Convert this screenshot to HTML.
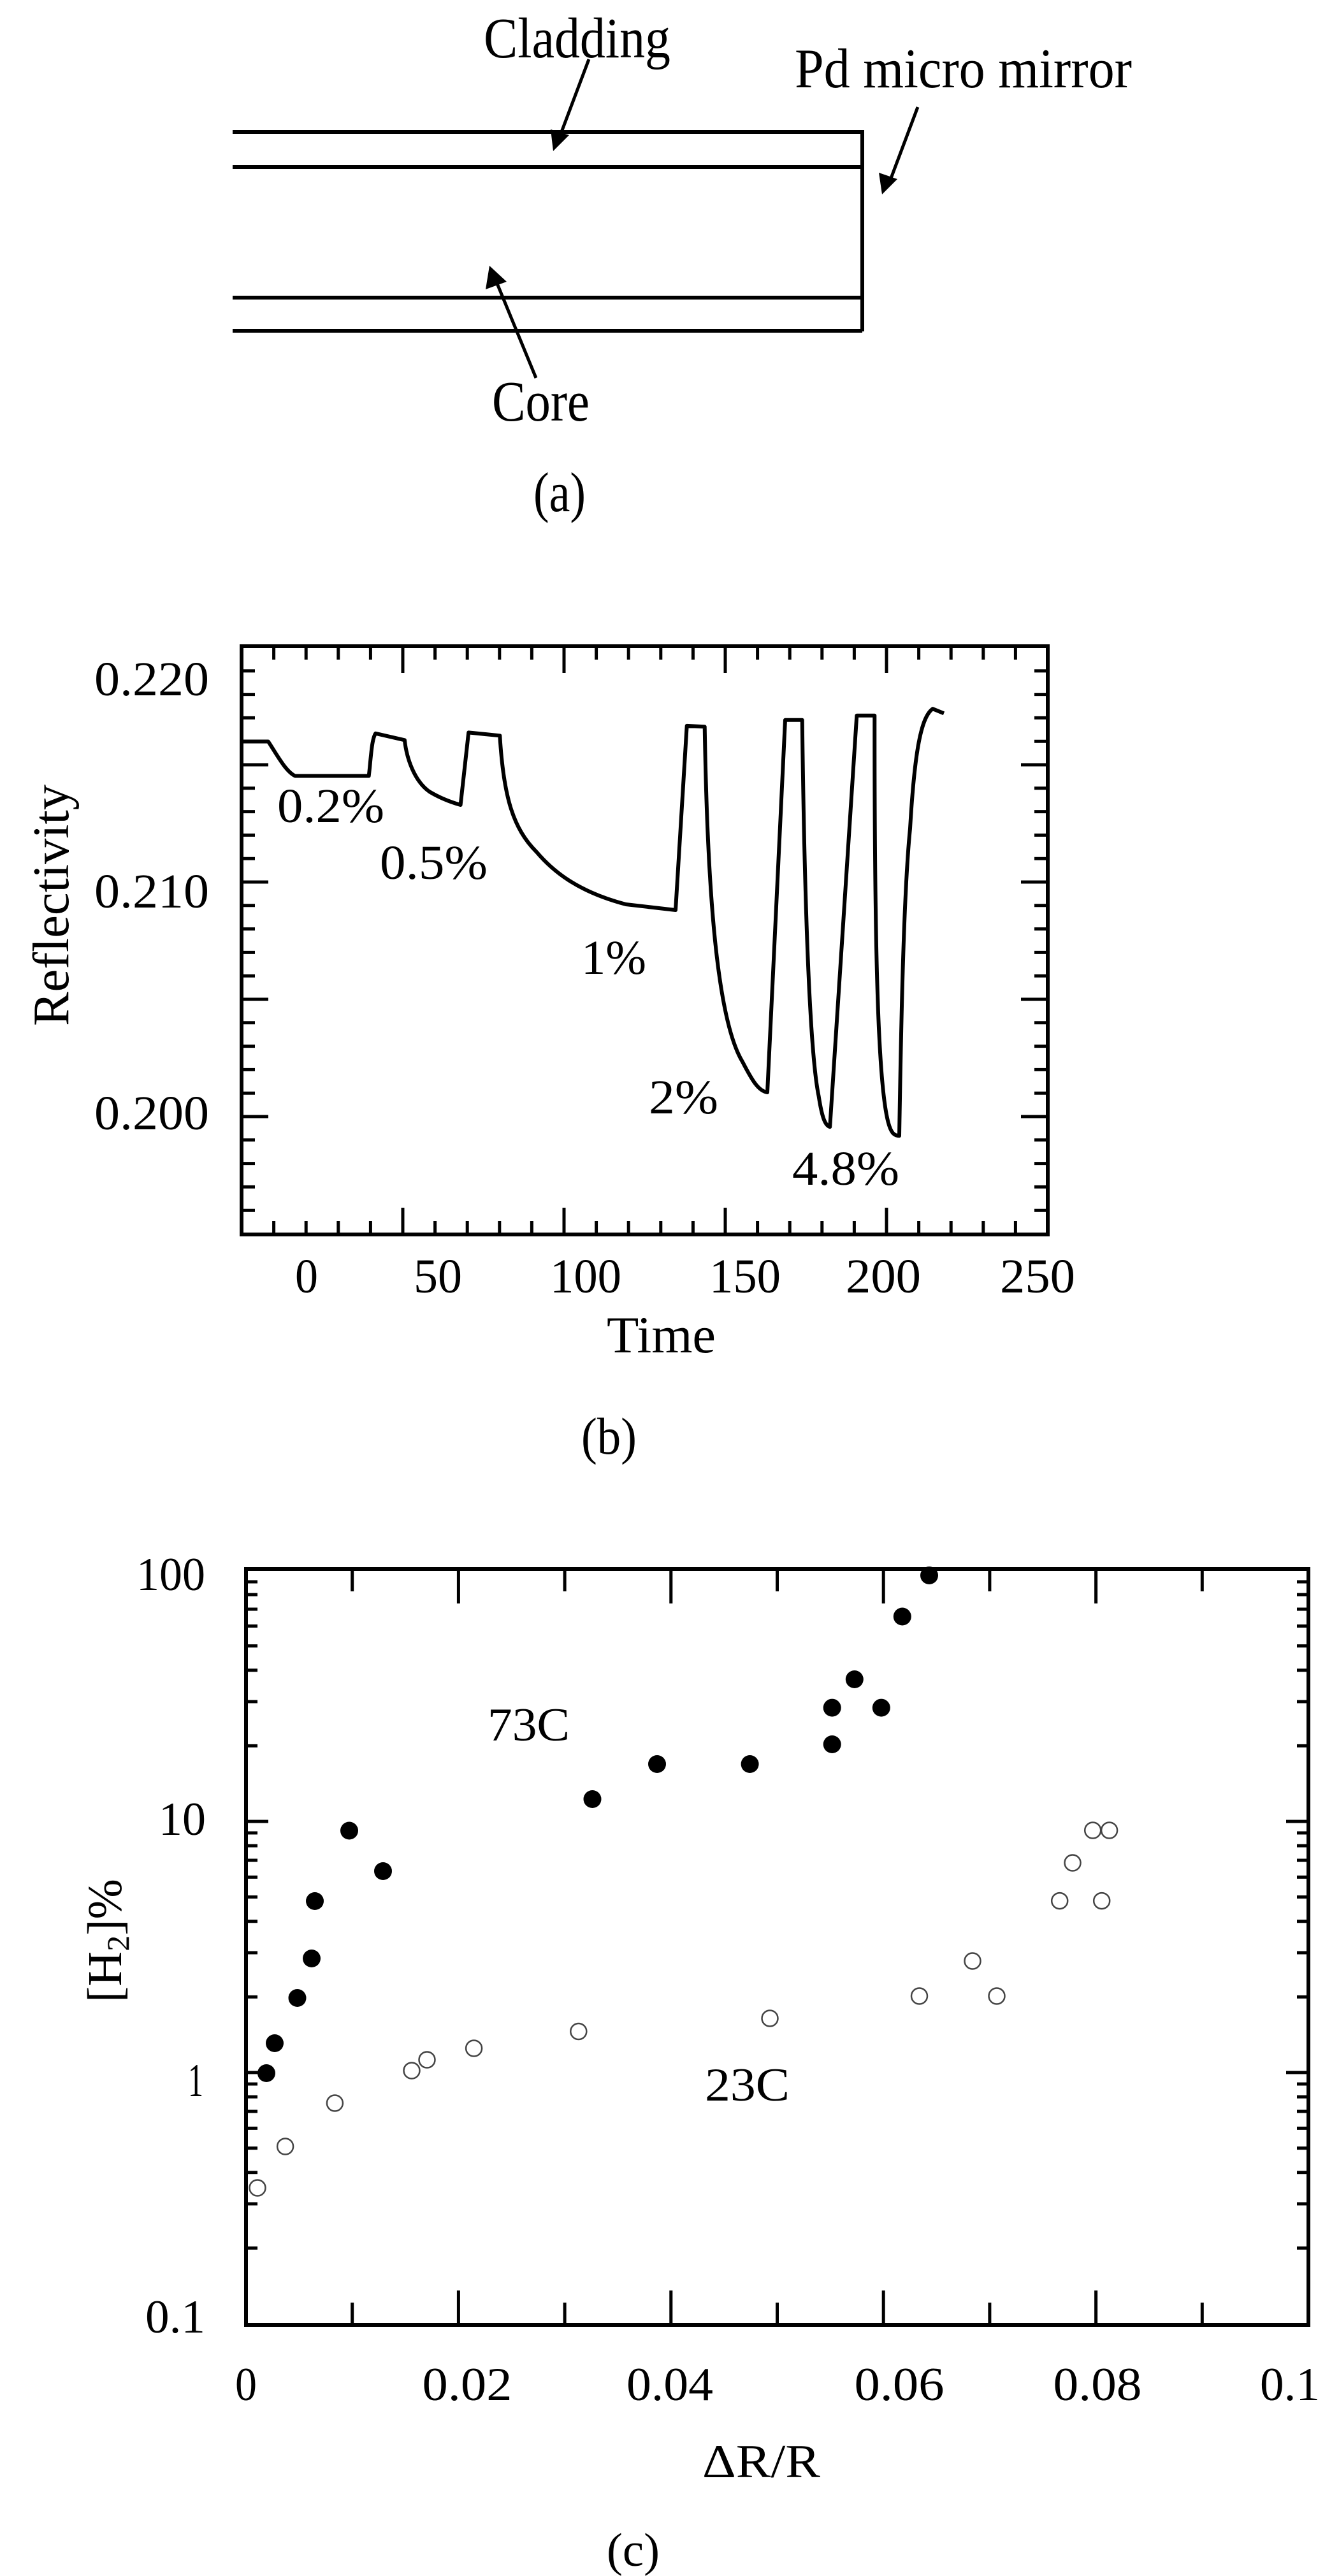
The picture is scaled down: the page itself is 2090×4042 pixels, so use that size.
<!DOCTYPE html>
<html><head><meta charset="utf-8"><style>html,body{margin:0;padding:0;background:#fff}svg{display:block}</style></head>
<body>
<svg width="2090" height="4042" viewBox="0 0 2090 4042" xmlns="http://www.w3.org/2000/svg" font-family="'Liberation Serif', serif" fill="#000">
<!-- (a) -->
<g stroke="#000" stroke-width="6" fill="none">
<path d="M365,207 H1353 V520"/>
<path d="M365,262 H1353"/>
<path d="M365,467 H1353"/>
<path d="M365,519 H1353"/>
<line x1="924" y1="93" x2="878" y2="215" stroke-width="5"/>
<line x1="1440" y1="168" x2="1396" y2="285" stroke-width="5"/>
<line x1="841" y1="593" x2="778" y2="440" stroke-width="5"/>
</g>
<polygon points="868,237 864,203 893,212"/>
<polygon points="1384,305 1379,271 1408,281"/>
<polygon points="768,417 762,454 795,442"/>
<text x="759" y="90" font-size="90" textLength="293" lengthAdjust="spacingAndGlyphs">Cladding</text>
<text x="1247" y="137" font-size="88" textLength="529" lengthAdjust="spacingAndGlyphs">Pd micro mirror</text>
<text x="772" y="660" font-size="90" textLength="153" lengthAdjust="spacingAndGlyphs">Core</text>
<text x="837" y="802" font-size="88" textLength="82" lengthAdjust="spacingAndGlyphs">(a)</text>

<!-- (b) -->
<rect x="379" y="1014" width="1265" height="923" fill="none" stroke="#000" stroke-width="6"/>
<path id="bticks" stroke="#000" stroke-width="5" fill="none" d=""/>
<path stroke="#000" stroke-width="6" fill="none" stroke-linejoin="round" d="M378.8,1163.5 L420.9,1163.5 C435,1185 448,1210 463,1217.5 L578.7,1217.5 C582,1190 583,1160 589.3,1150.8 L634.9,1161.3 C638,1190 650,1225 673.5,1242 C690,1252 705,1258 722.6,1263 L735.2,1149.4 L784.3,1154.3 C790,1250 805,1300 841.8,1336.7 C870,1370 910,1400 982,1419 L1060,1428 L1077.7,1138.9 L1105.7,1140.3 C1110,1400 1125,1600 1165,1666 C1180,1695 1190,1712 1204,1714 L1232,1129.8 L1258.7,1129.8 C1262,1400 1270,1650 1284.6,1720 C1290,1755 1295,1766 1302.2,1768.2 L1344.3,1122.8 L1372.3,1122.8 C1372,1500 1378,1700 1393.4,1760 C1398,1778 1403,1782 1411,1782.2 C1414,1600 1418,1400 1428,1300 C1435,1180 1445,1125 1463.5,1112.2 L1481,1119.3"/>
<g font-size="76">
<text x="148" y="1091" textLength="180" lengthAdjust="spacingAndGlyphs">0.220</text>
<text x="148" y="1424" textLength="180" lengthAdjust="spacingAndGlyphs">0.210</text>
<text x="148" y="1772" textLength="180" lengthAdjust="spacingAndGlyphs">0.200</text>
<g text-anchor="middle">
<text x="481" y="2028" textLength="36" lengthAdjust="spacingAndGlyphs">0</text>
<text x="687" y="2028" textLength="76" lengthAdjust="spacingAndGlyphs">50</text>
<text x="919" y="2028" textLength="112" lengthAdjust="spacingAndGlyphs">100</text>
<text x="1169" y="2028" textLength="112" lengthAdjust="spacingAndGlyphs">150</text>
<text x="1386" y="2028" textLength="118" lengthAdjust="spacingAndGlyphs">200</text>
<text x="1628" y="2028" textLength="118" lengthAdjust="spacingAndGlyphs">250</text>
</g>
<text x="435" y="1290" textLength="168" lengthAdjust="spacingAndGlyphs">0.2%</text>
<text x="596" y="1379" textLength="169" lengthAdjust="spacingAndGlyphs">0.5%</text>
<text x="912" y="1528" textLength="102" lengthAdjust="spacingAndGlyphs">1%</text>
<text x="1018" y="1747" textLength="109" lengthAdjust="spacingAndGlyphs">2%</text>
<text x="1243" y="1859" textLength="168" lengthAdjust="spacingAndGlyphs">4.8%</text>
<text x="952" y="2122" font-size="82" textLength="171" lengthAdjust="spacingAndGlyphs">Time</text>
<text x="912" y="2281" font-size="82" textLength="87" lengthAdjust="spacingAndGlyphs">(b)</text>
<text transform="translate(107,1610) rotate(-90)" x="0" y="0" font-size="80" textLength="379" lengthAdjust="spacingAndGlyphs">Reflectivity</text>
</g>

<!-- (c) -->
<rect x="386" y="2462" width="1667" height="1186" fill="none" stroke="#000" stroke-width="6"/>
<path id="cticks" stroke="#000" stroke-width="5" fill="none" d=""/>
<g font-size="74">
<text x="214" y="2495" textLength="108" lengthAdjust="spacingAndGlyphs">100</text>
<text x="249" y="2879" textLength="74" lengthAdjust="spacingAndGlyphs">10</text>
<text x="295" y="3289" textLength="24" lengthAdjust="spacingAndGlyphs">1</text>
<text x="228" y="3660" textLength="94" lengthAdjust="spacingAndGlyphs">0.1</text>
<g text-anchor="middle">
<text x="386" y="3766" textLength="34" lengthAdjust="spacingAndGlyphs">0</text>
<text x="733" y="3766" textLength="141" lengthAdjust="spacingAndGlyphs">0.02</text>
<text x="1051" y="3766" textLength="136" lengthAdjust="spacingAndGlyphs">0.04</text>
<text x="1411" y="3766" textLength="141" lengthAdjust="spacingAndGlyphs">0.06</text>
<text x="1722" y="3766" textLength="139" lengthAdjust="spacingAndGlyphs">0.08</text>
<text x="2024" y="3766" textLength="94" lengthAdjust="spacingAndGlyphs">0.1</text>
</g>
<text x="765" y="2731" textLength="129" lengthAdjust="spacingAndGlyphs">73C</text>
<text x="1106" y="3296" textLength="133" lengthAdjust="spacingAndGlyphs">23C</text>
<text x="1102" y="3887" textLength="185" lengthAdjust="spacingAndGlyphs">ΔR/R</text>
<text x="952" y="4026" textLength="83" lengthAdjust="spacingAndGlyphs">(c)</text>
<text transform="translate(190,3142) rotate(-90)" font-size="76"><tspan>[H</tspan><tspan font-size="50" dy="12">2</tspan><tspan dy="-12">]%</tspan></text>
</g>
<g id="filled">
<circle cx="418" cy="3253" r="14"/><circle cx="431" cy="3206" r="14"/><circle cx="466.5" cy="3135" r="14"/>
<circle cx="489" cy="3073" r="14"/><circle cx="494" cy="2983" r="14"/><circle cx="548" cy="2872.5" r="14"/>
<circle cx="601" cy="2936" r="14"/><circle cx="929.5" cy="2823" r="14"/><circle cx="1031" cy="2768" r="14"/>
<circle cx="1176.6" cy="2768" r="14"/><circle cx="1305.7" cy="2737" r="14"/><circle cx="1305.7" cy="2679.6" r="14"/>
<circle cx="1340.8" cy="2635" r="14"/><circle cx="1382.8" cy="2679.6" r="14"/><circle cx="1415.8" cy="2536.5" r="14"/>
<circle cx="1458" cy="2472" r="14"/>
</g>
<g fill="none" stroke="#444" stroke-width="2.5">
<circle cx="404" cy="3433" r="12.5"/><circle cx="447.6" cy="3368" r="12.5"/><circle cx="525.4" cy="3300" r="12.5"/>
<circle cx="646" cy="3249" r="12.5"/><circle cx="670" cy="3232" r="12.5"/><circle cx="743.6" cy="3214" r="12.5"/>
<circle cx="907.8" cy="3187.5" r="12.5"/><circle cx="1208" cy="3167" r="12.5"/><circle cx="1442.5" cy="3132" r="12.5"/>
<circle cx="1526" cy="3077" r="12.5"/><circle cx="1564" cy="3132" r="12.5"/><circle cx="1662.7" cy="2982.6" r="12.5"/>
<circle cx="1683" cy="2923" r="12.5"/><circle cx="1714.7" cy="2872" r="12.5"/><circle cx="1740.6" cy="2872" r="12.5"/>
<circle cx="1728.7" cy="2982.6" r="12.5"/>
</g>
</svg>
<script>
(function(){
var d="";
for(var k=1;k<25;k++){var x=379+k*50.6;var L=(k%5==0)?42:21;d+="M"+x+",1937v-"+L+"M"+x+",1014v"+L;}
for(var k=-4;k<=19;k++){var y=1752-36.8*k;var L=(k%5==0)?42:21;d+="M379,"+y+"h"+L+"M1644,"+y+"h-"+L;}
document.getElementById("bticks").setAttribute("d",d);
var c="";
for(var k=1;k<10;k++){var x=386+k*166.7;var L=(k%2==0)?54:35;c+="M"+x+",3648v-"+L+"M"+x+",2462v"+L;}
var dec=394;
for(var e=0;e<3;e++){var base=3646-e*dec;for(var m=1;m<=9;m++){var y=base-Math.log10(m)*dec;if(e==0&&m==1)continue;var L=(m==1)?35:18;c+="M386,"+y+"h"+L+"M2053,"+y+"h-"+L;}}
document.getElementById("cticks").setAttribute("d",c);
})();
</script>
</body></html>
